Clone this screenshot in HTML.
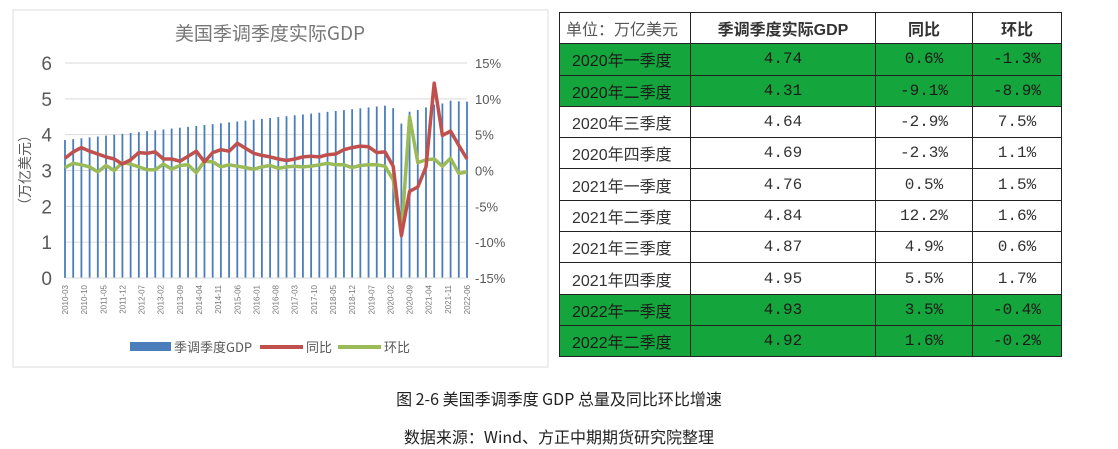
<!DOCTYPE html>
<html><head><meta charset="utf-8">
<style>
body{margin:0;background:#fff;width:1118px;height:449px;overflow:hidden;position:relative;font-family:"Liberation Sans","Noto Sans CJK SC",sans-serif}
#chart{position:absolute;left:0;top:0}
table{position:absolute;left:559px;top:12px;border-collapse:collapse;width:502px;table-layout:fixed;font-family:"Liberation Mono","Noto Sans CJK SC",monospace}
td{border:1.5px solid #222;height:30.3px;padding:0;text-align:center;font-size:16px;color:#333;white-space:nowrap;overflow:hidden}
td:first-child{text-align:left;padding-left:12px;font-family:"Liberation Sans","Noto Sans CJK SC",sans-serif}
tr.g td{background:#14a53c;color:#1a1a1a}
tr.h td{font-family:"Liberation Sans","Noto Sans CJK SC",sans-serif;font-weight:bold;color:#333}
tr.h td:first-child{font-weight:normal;color:#555;padding-left:6px}
.cap{position:absolute;left:0;width:1118px;text-align:center;font-size:16px;color:#222;font-family:"Noto Sans CJK SC",sans-serif}
</style></head><body>
<svg id="chart" width="555" height="375" xmlns="http://www.w3.org/2000/svg"></svg>
<table>
<colgroup><col style="width:131px"><col style="width:185px"><col style="width:97px"><col style="width:89px"></colgroup>
<tr class="h"><td>单位：万亿美元</td><td>季调季度实际GDP</td><td>同比</td><td>环比</td></tr>
<tr class="g"><td>2020年一季度</td><td>4.74</td><td>0.6%</td><td>-1.3%</td></tr>
<tr class="g"><td>2020年二季度</td><td>4.31</td><td>-9.1%</td><td>-8.9%</td></tr>
<tr><td>2020年三季度</td><td>4.64</td><td>-2.9%</td><td>7.5%</td></tr>
<tr><td>2020年四季度</td><td>4.69</td><td>-2.3%</td><td>1.1%</td></tr>
<tr><td>2021年一季度</td><td>4.76</td><td>0.5%</td><td>1.5%</td></tr>
<tr><td>2021年二季度</td><td>4.84</td><td>12.2%</td><td>1.6%</td></tr>
<tr><td>2021年三季度</td><td>4.87</td><td>4.9%</td><td>0.6%</td></tr>
<tr><td>2021年四季度</td><td>4.95</td><td>5.5%</td><td>1.7%</td></tr>
<tr class="g"><td>2022年一季度</td><td>4.93</td><td>3.5%</td><td>-0.4%</td></tr>
<tr class="g"><td>2022年二季度</td><td>4.92</td><td>1.6%</td><td>-0.2%</td></tr>
</table>
<div class="cap" style="top:386px">图 2-6 美国季调季度 GDP 总量及同比环比增速</div>
<div class="cap" style="top:424px">数据来源：Wind、方正中期期货研究院整理</div>
<script>
var s=document.getElementById('chart'),h='';
var X0=65,X1=467,Y6=63,Y0=278,u=(Y0-Y6)/6,p=(Y0-Y6)/30,z=(Y0+Y6)/2;
h+='<rect x="13" y="10" width="535" height="357" fill="#fff" stroke="#ddd"/>';
h+='<text x="270" y="40" font-size="19" fill="#777" text-anchor="middle" font-family="Noto Sans CJK SC,sans-serif">美国季调季度实际GDP</text>';
for(var i=0;i<=6;i++){var y=Y0-i*u;h+='<line x1="'+X0+'" x2="'+X1+'" y1="'+y+'" y2="'+y+'" stroke="#d9d9d9"/>';
h+='<text x="52" y="'+(y+7)+'" font-size="19" fill="#595959" text-anchor="end">'+i+'</text>';
h+='<text x="475" y="'+(y+5)+'" font-size="13" fill="#595959">'+(-15+5*i)+'%</text>';}
h+='<text transform="translate(30,170) rotate(-90)" font-size="14" fill="#595959" text-anchor="middle" font-family="Noto Sans CJK SC,sans-serif">（万亿美元）</text>';
var g=[];for(i=0;i<40;i++)g.push(3.85+0.96*i/39);g=g.concat([4.74,4.31,4.64,4.69,4.76,4.84,4.87,4.95,4.93,4.92]);
var yo=[1.7,2.6,3.2,2.7,2.3,1.9,1.6,0.9,1.5,2.5,2.4,2.6,1.6,1.6,1.3,2.0,2.7,1.2,2.5,2.9,2.7,3.8,3.1,2.4,2.1,1.9,1.6,1.4,1.6,1.9,2.0,1.9,2.2,2.3,2.9,3.2,3.4,3.3,2.5,2.6,0.6,-9.1,-2.9,-2.3,0.5,12.2,4.9,5.5,3.5,1.6];
var qo=[0.4,1.0,0.8,0.5,-0.2,0.7,0.0,1.1,0.9,0.5,0.1,0.1,0.9,0.2,0.7,0.8,-0.3,1.3,1.2,0.5,0.8,0.6,0.4,0.2,0.5,0.7,0.3,0.5,0.6,0.5,0.6,0.8,1.0,0.8,0.8,0.4,0.7,0.8,0.8,0.6,-1.3,-8.9,7.5,1.1,1.5,1.6,0.6,1.7,-0.4,-0.2];
var dx=(X1-X0)/49,a='',b='';
for(i=0;i<50;i++){var x=X0+i*dx;h+='<rect x="'+(x-0.9)+'" y="'+(Y0-g[i]*u)+'" width="1.8" height="'+(g[i]*u)+'" fill="#4a7ebb"/>';
a+=(i?'L':'M')+x.toFixed(1)+','+(z-yo[i]*p).toFixed(1);b+=(i?'L':'M')+x.toFixed(1)+','+(z-qo[i]*p).toFixed(1);}
h+='<line x1="'+X0+'" x2="'+X1+'" y1="'+Y0+'" y2="'+Y0+'" stroke="#d9d9d9"/>';
h+='<path d="'+b+'" fill="none" stroke="#9bbb59" stroke-width="3.5" stroke-linejoin="round"/>';
h+='<path d="'+a+'" fill="none" stroke="#c0504d" stroke-width="3.5" stroke-linejoin="round"/>';
var L=['2010-03','2010-10','2011-05','2011-12','2012-07','2013-02','2013-09','2014-04','2014-11','2015-06','2016-01','2016-08','2017-03','2017-10','2018-05','2018-12','2019-07','2020-02','2020-09','2021-04','2021-11','2022-06'];
for(i=0;i<22;i++){var x=X0+i*(X1-X0)/21;h+='<text transform="translate('+(x+3)+',285) rotate(-90)" font-size="8" fill="#777" text-anchor="end">'+L[i]+'</text>';}
h+='<rect x="130" y="342" width="41" height="9" fill="#4a7ebb"/><text x="174" y="352" font-size="13" fill="#595959" font-family="Noto Sans CJK SC,sans-serif">季调季度GDP</text>';
h+='<line x1="260" x2="303" y1="347" y2="347" stroke="#c0504d" stroke-width="4"/><text x="306" y="352" font-size="13" fill="#595959" font-family="Noto Sans CJK SC,sans-serif">同比</text>';
h+='<line x1="338" x2="381" y1="347" y2="347" stroke="#9bbb59" stroke-width="4"/><text x="384" y="352" font-size="13" fill="#595959" font-family="Noto Sans CJK SC,sans-serif">环比</text>';
s.innerHTML=h;
</script>
</body></html>
